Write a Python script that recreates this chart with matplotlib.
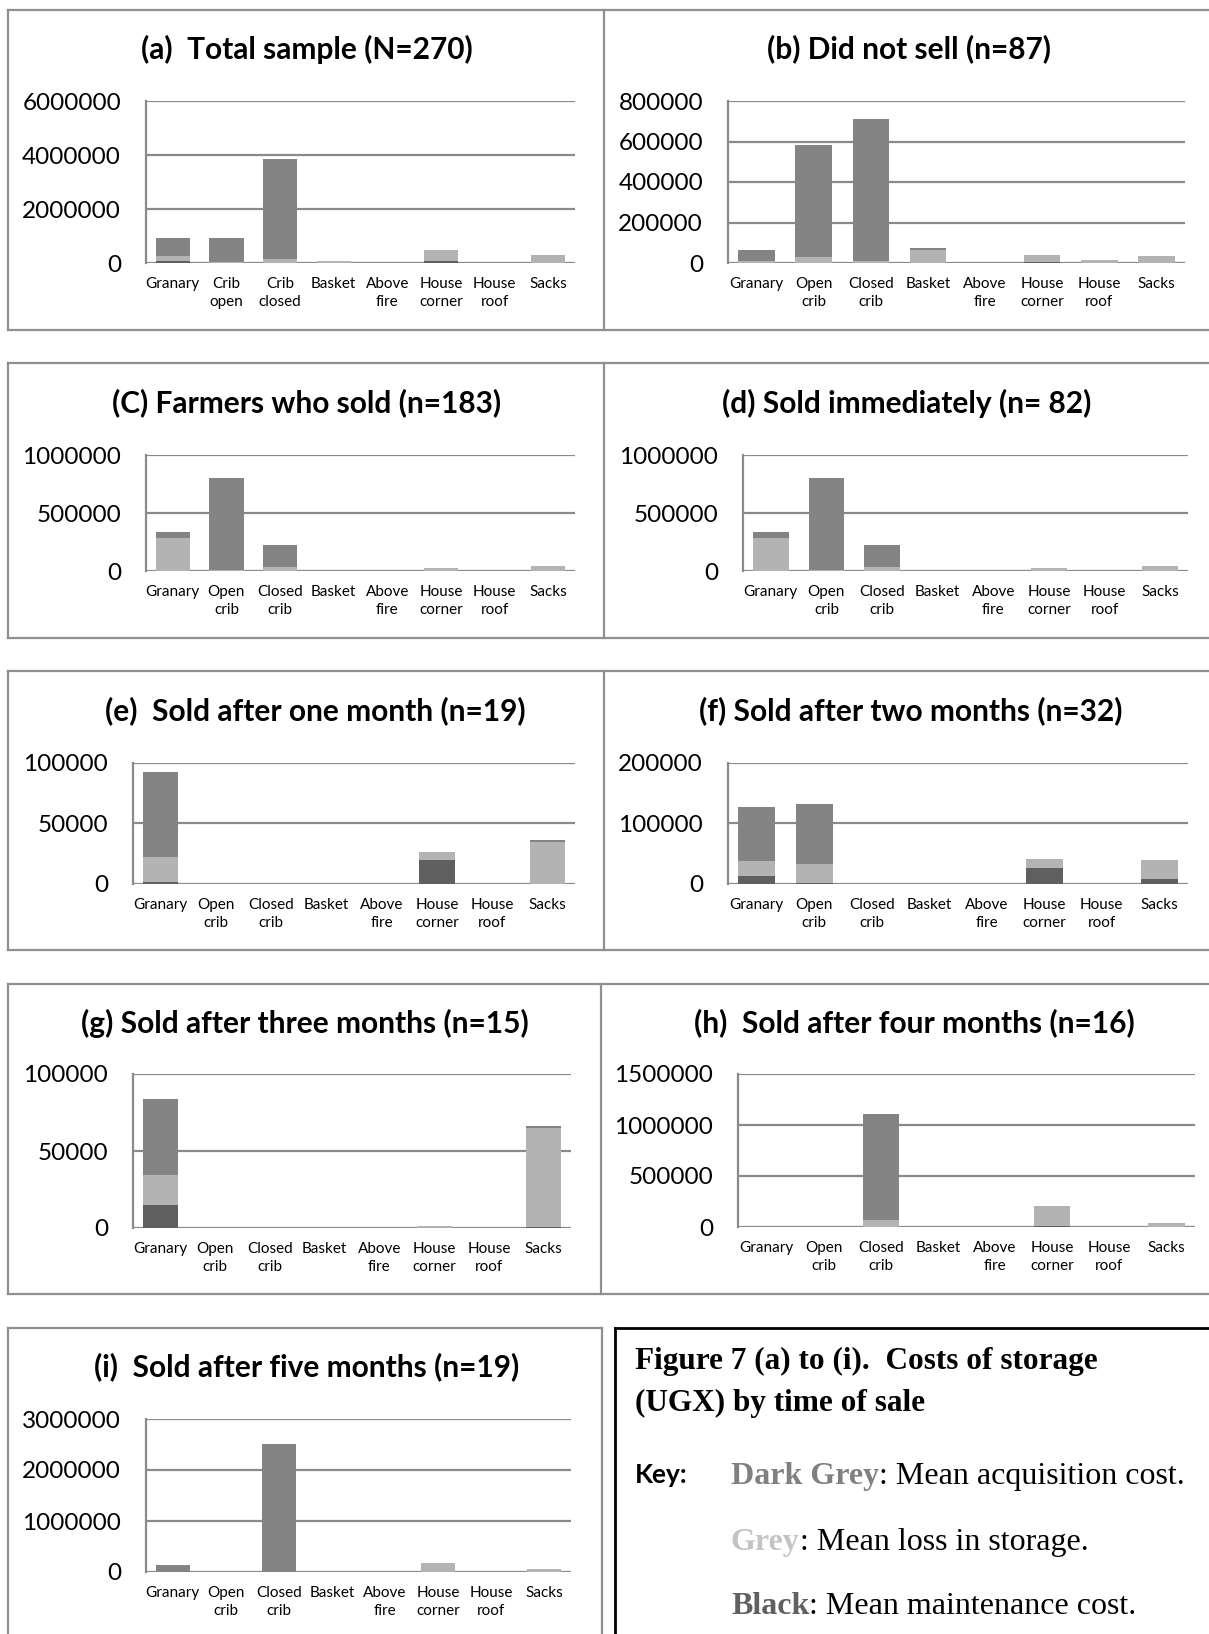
import matplotlib
matplotlib.use("Agg")
import matplotlib.pyplot as plt
from matplotlib.lines import Line2D

W, H = 1209, 1634

# ---------------- data ----------------
cats_a = ["Granary", "Crib\nopen", "Crib\nclosed", "Basket", "Above\nfire",
          "House\ncorner", "House\nroof", "Sacks"]
cats = ["Granary", "Open\ncrib", "Closed\ncrib", "Basket", "Above\nfire",
        "House\ncorner", "House\nroof", "Sacks"]

titles = ["(a)  Total sample (N=270)", "(b) Did not sell (n=87)",
          "(C) Farmers who sold (n=183)", "(d) Sold immediately (n= 82)",
          "(e)  Sold after one month (n=19)", "(f) Sold after two months (n=32)",
          "(g) Sold after three months (n=15)", "(h)  Sold after four months (n=16)",
          "(i)  Sold after five months (n=19)"]

# maintenance (black), loss (grey), acquisition (dark grey)
a_maint = [85000, 5000, 10000, 0, 0, 80000, 0, 5000]
a_loss = [175000, 30000, 125000, 70000, 0, 400000, 0, 290000]
a_acq = [665000, 905000, 3725000, 10000, 0, 0, 0, 0]

b_maint = [2000, 0, 0, 0, 0, 5000, 0, 0]
b_loss = [8000, 31000, 10000, 63000, 0, 35000, 16000, 36000]
b_acq = [55000, 551000, 701000, 11000, 0, 0, 0, 0]

c_maint = [0, 2000, 0, 0, 0, 0, 0, 2000]
c_loss = [281000, 5000, 34000, 0, 0, 23000, 0, 38000]
c_acq = [57000, 797000, 193000, 0, 0, 0, 0, 0]

d_maint = [0, 2000, 0, 0, 0, 0, 0, 2000]
d_loss = [281000, 5000, 34000, 0, 0, 23000, 0, 38000]
d_acq = [57000, 797000, 193000, 0, 0, 0, 0, 0]

e_maint = [2000, 0, 0, 0, 0, 19600, 0, 0]
e_loss = [20000, 0, 0, 0, 0, 7200, 0, 35000]
e_acq = [70500, 0, 0, 0, 0, 0, 0, 1500]

f_maint = [13800, 1500, 0, 0, 0, 26500, 0, 8300]
f_loss = [24200, 31500, 0, 0, 0, 15000, 0, 31000]
f_acq = [90000, 100000, 0, 0, 0, 0, 0, 0]

g_maint = [14800, 0, 0, 0, 0, 0, 0, 500]
g_loss = [19300, 0, 0, 0, 0, 1300, 0, 64700]
g_acq = [49900, 0, 0, 0, 0, 0, 0, 1300]

h_maint = [0, 0, 0, 0, 0, 13000, 0, 4000]
h_loss = [0, 0, 72000, 0, 0, 190000, 0, 35000]
h_acq = [0, 0, 1039000, 0, 0, 0, 0, 0]

i_maint = [0, 0, 0, 0, 0, 0, 0, 0]
i_loss = [0, 0, 0, 0, 0, 176000, 0, 65000]
i_acq = [130000, 0, 2511000, 0, 0, 0, 0, 0]

ymax = [6000000, 800000, 1000000, 1000000, 100000, 200000, 100000, 1500000, 3000000]
ystep = [2000000, 200000, 500000, 500000, 50000, 100000, 50000, 500000, 1000000]

panels_data = [(a_maint, a_loss, a_acq), (b_maint, b_loss, b_acq),
               (c_maint, c_loss, c_acq), (d_maint, d_loss, d_acq),
               (e_maint, e_loss, e_acq), (f_maint, f_loss, f_acq),
               (g_maint, g_loss, g_acq), (h_maint, h_loss, h_acq),
               (i_maint, i_loss, i_acq)]

# ---------------- style ----------------
C_ACQ = "#848484"
C_LOSS = "#b3b3b3"
C_MAINT = "#5f5f5f"
C_GRID = "#8a8a8a"
C_BORDER = "#8f8f8f"
SANS = ["Lato", "DejaVu Sans"]
SERIF = ["Liberation Serif", "DejaVu Serif"]

fig = plt.figure(figsize=(W / 100, H / 100), dpi=100)
fig.patch.set_facecolor("white")

# axes boxes in pixels: left, top, right, bottom
axes_px = [(146, 101, 575, 263), (728, 101, 1185, 263),
           (146, 455, 575, 571), (743, 455, 1188, 571),
           (133, 763, 575, 884), (728, 763, 1188, 884),
           (133, 1074, 571, 1228), (738, 1074, 1195, 1227),
           (146, 1419, 571, 1572)]
title_px = [(307, 49), (909, 49), (307, 403), (907, 403), (315, 711), (911, 711),
            (305, 1023), (914, 1023), (307, 1367)]


def fx(x):
    return x / W


def fy(y):
    return 1 - y / H


def fig_line(x0, y0, x1, y1, color=C_BORDER, lw=1.6):
    fig.add_artist(Line2D([fx(x0), fx(x1)], [fy(y0), fy(y1)], color=color,
                          lw=lw, transform=fig.transFigure))


# panel borders
fig_line(8, 10, 1209, 10)
fig_line(8, 330, 1209, 330)
fig_line(8, 10, 8, 330)
fig_line(604, 10, 604, 330)

fig_line(8, 363, 1209, 363)
fig_line(8, 638, 1209, 638)
fig_line(8, 363, 8, 638)
fig_line(604, 363, 604, 638)

fig_line(8, 671, 1209, 671)
fig_line(8, 950, 1209, 950)
fig_line(8, 671, 8, 950)
fig_line(604, 671, 604, 950)

fig_line(8, 984, 1209, 984)
fig_line(8, 1294, 1209, 1294)
fig_line(8, 984, 8, 1294)
fig_line(601, 984, 601, 1294)

fig_line(8, 1328, 602, 1328)
fig_line(8, 1328, 8, 1634)
fig_line(602, 1328, 602, 1634)

# text box (black border)
fig_line(615, 1328, 1209, 1328, color="black", lw=2)
fig_line(615, 1328, 615, 1634, color="black", lw=2)

for k in range(9):
    l, t, r, b = axes_px[k]
    ax = fig.add_axes([fx(l), fy(b), fx(r) - fx(l), fy(t) - fy(b)])
    maint, loss, acq = panels_data[k]
    x = list(range(len(cats)))
    bottom2 = [m + s for m, s in zip(maint, loss)]
    ax.bar(x, maint, width=0.64, color=C_MAINT, zorder=3)
    ax.bar(x, loss, width=0.64, bottom=maint, color=C_LOSS, zorder=3)
    ax.bar(x, acq, width=0.64, bottom=bottom2, color=C_ACQ, zorder=3)
    ax.set_xlim(-0.5, 7.5)
    ax.set_ylim(0, ymax[k])
    ticks = list(range(0, ymax[k] + 1, ystep[k]))
    ax.set_yticks(ticks)
    ax.set_yticklabels([str(v) for v in ticks], fontfamily=SANS, fontsize=17.5)
    ax.set_xticks(x)
    ax.set_xticklabels(cats_a if k == 0 else cats, fontfamily=SANS, fontsize=11,
                       linespacing=1.4)
    ax.tick_params(axis="both", length=0)
    ax.tick_params(axis="y", pad=18)
    ax.tick_params(axis="x", pad=10)
    for v in ticks:
        ax.axhline(v, color=C_GRID, lw=1.6, zorder=1)
    for s in ["top", "right", "bottom"]:
        ax.spines[s].set_visible(False)
    ax.spines["left"].set_color(C_GRID)
    ax.spines["left"].set_linewidth(1.6)
    ax.set_facecolor("none")
    fig.text(fx(title_px[k][0]), fy(title_px[k][1]), titles[k], ha="center",
             va="center", fontfamily=SANS, fontweight="bold", fontsize=21.5)

# caption / key text box
fig.text(fx(635), fy(1361), "Figure 7 (a) to (i).  Costs of storage",
         ha="left", va="center", fontfamily=SERIF, fontweight="bold", fontsize=22.5)
fig.text(fx(635), fy(1403), "(UGX) by time of sale",
         ha="left", va="center", fontfamily=SERIF, fontweight="bold", fontsize=22.5)
fig.text(fx(635), fy(1475), "Key:", ha="left", va="center", fontfamily=SANS,
         fontweight="bold", fontsize=19)

key_rows = [("Dark Grey", "#808080", ": Mean acquisition cost.", 1484),
            ("Grey", "#c4c4c4", ": Mean loss in storage.", 1550),
            ("Black", "#606060", ": Mean maintenance cost.", 1614)]
for word, col, rest, ybase in key_rows:
    t1 = fig.text(fx(731), fy(ybase), word, ha="left", va="baseline",
                  fontfamily=SERIF, fontweight="bold", fontsize=23, color=col)
    plt.annotate(rest, xy=(1, 0), xycoords=t1, ha="left", va="bottom",
                 fontfamily=SERIF, fontsize=23, color="black",
                 annotation_clip=False)

fig.savefig("out.png", dpi=100, facecolor="white")
